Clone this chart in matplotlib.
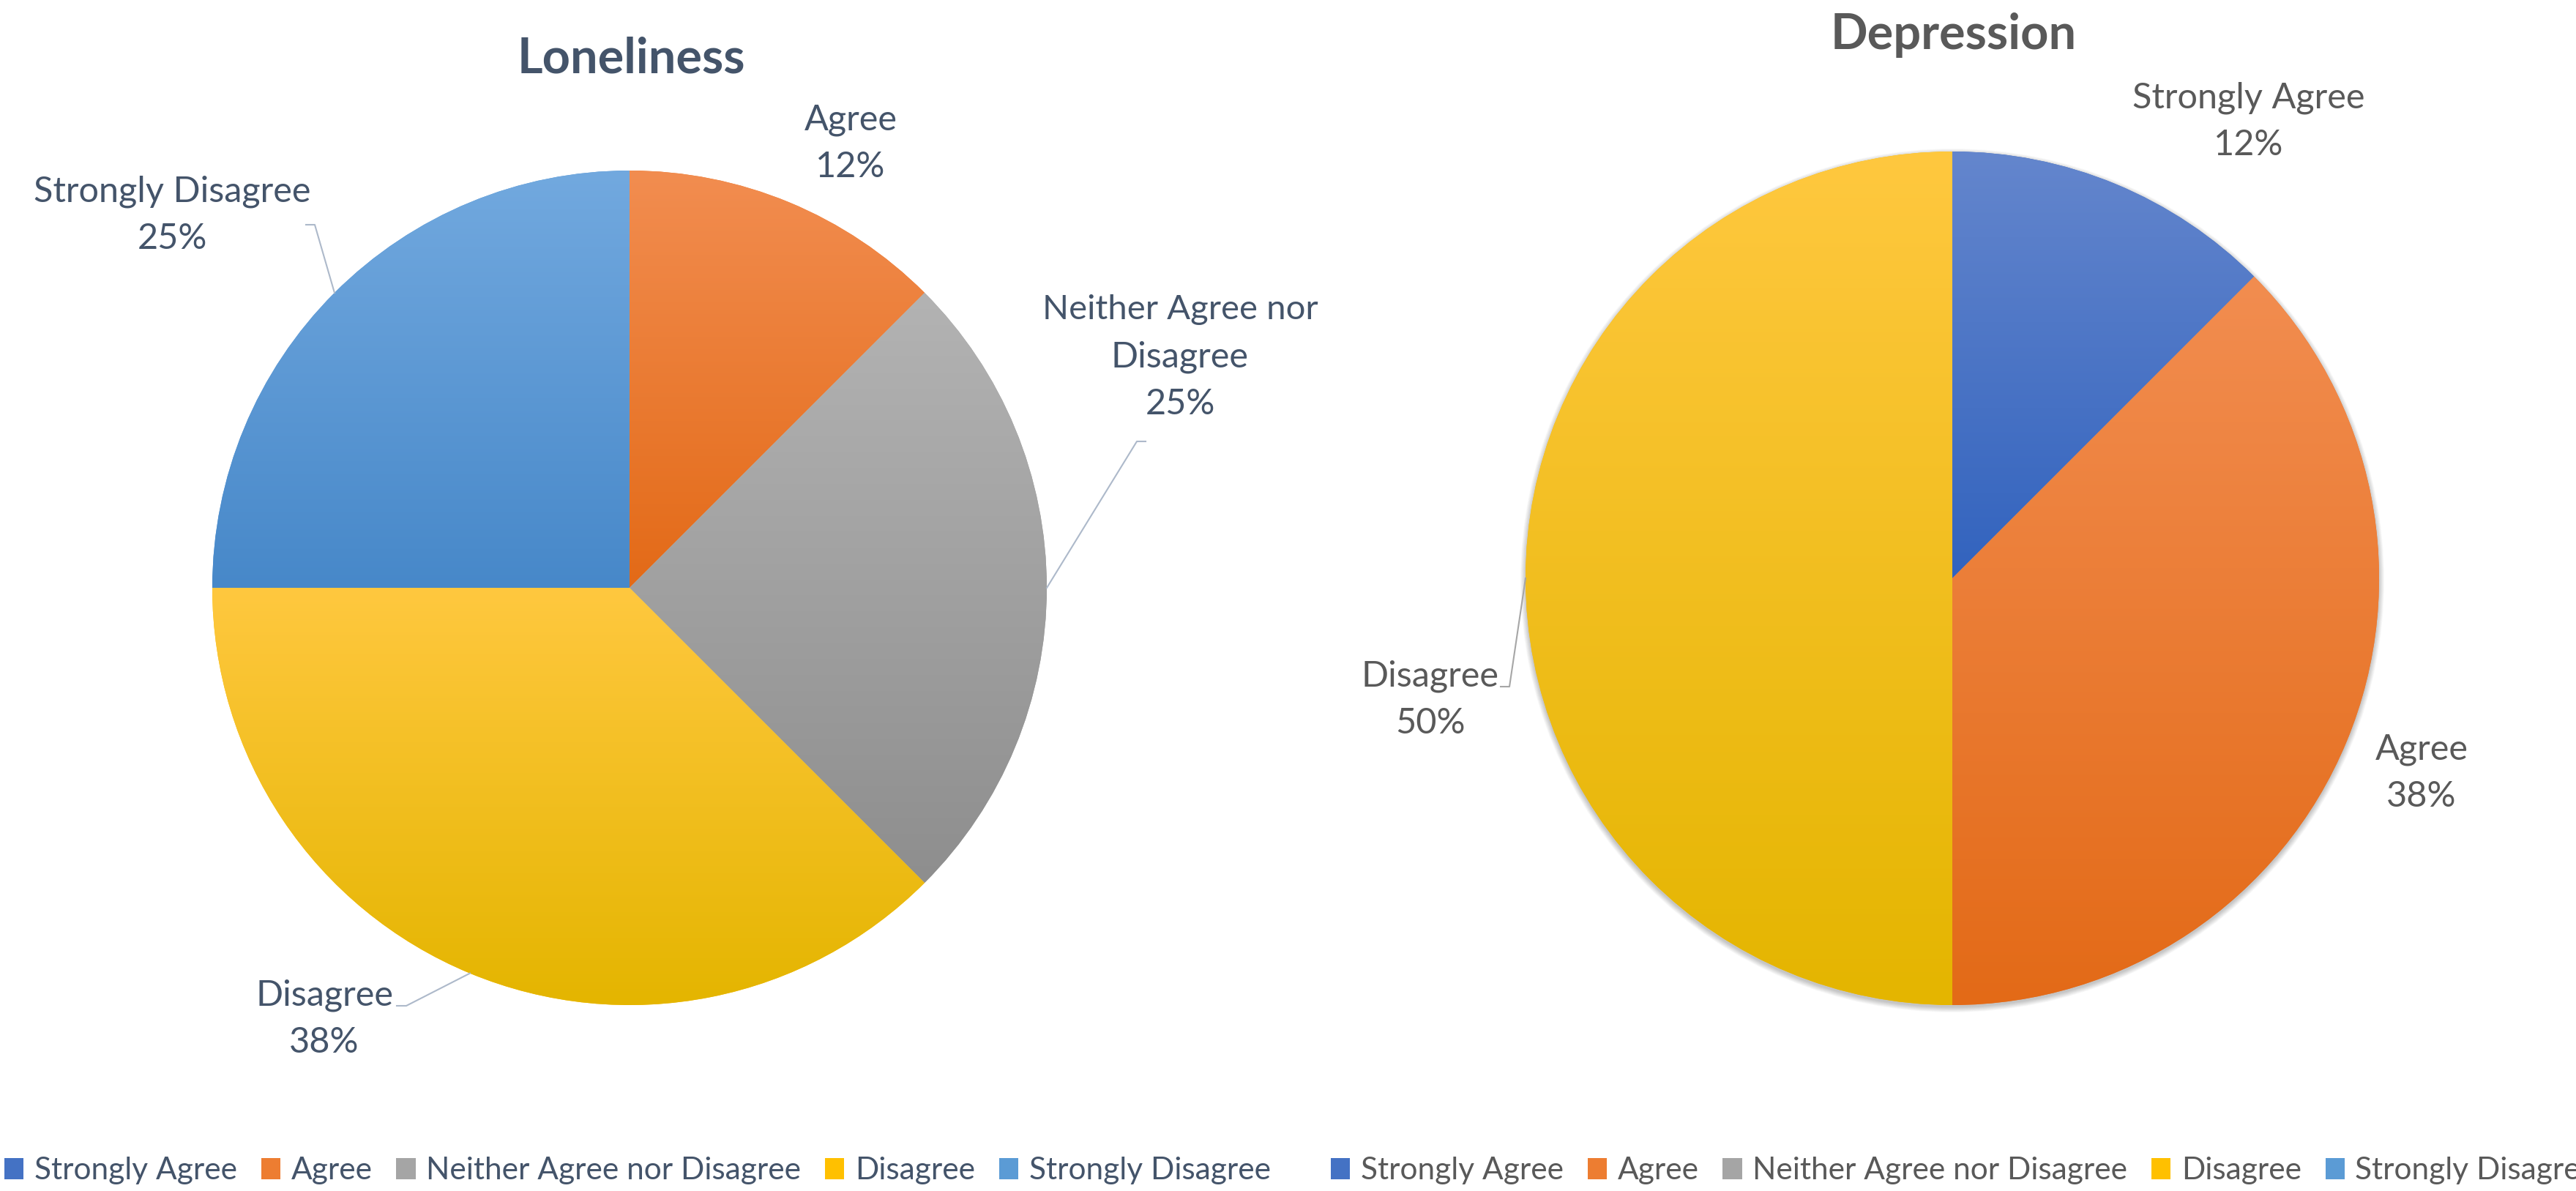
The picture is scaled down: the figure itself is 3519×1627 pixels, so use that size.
import matplotlib.pyplot as plt
import matplotlib.colors as mcolors
from matplotlib.patches import Patch, Circle
import numpy as np

plt.rcParams['font.family'] = ['Lato', 'DejaVu Sans']

# data (percent of respondents)
categories = ['Strongly Agree', 'Agree', 'Neither Agree nor Disagree', 'Disagree', 'Strongly Disagree']
loneliness = [0, 12.5, 25, 37.5, 25]
depression = [12.5, 37.5, 0, 50, 0]
loneliness_pct = ['0%', '12%', '25%', '38%', '25%']
depression_pct = ['12%', '38%', '0%', '50%', '0%']

# excel-like gradient colours (top, bottom) per category
base_cols = ['#4472C4', '#ED7D31', '#A5A5A5', '#FFC000', '#5B9BD5']
grad_cols = [('#6486CD', '#3263BE'),
             ('#F28D50', '#E36A17'),
             ('#B3B3B3', '#8E8E8E'),
             ('#FFC83F', '#E4B500'),
             ('#72A9DF', '#4788C9')]

W, H = 3519, 1627
fig = plt.figure(figsize=(W / 100, H / 100), dpi=100)
ax = fig.add_axes([0, 0, 1, 1])


def fy(y):
    # reference pixel rows are counted from the top
    return H - y


def draw_pie(values, cx, cy, r):
    wedges, _ = ax.pie(values, startangle=90, counterclock=False, center=(cx, fy(cy)),
                       radius=r, colors=base_cols, wedgeprops=dict(linewidth=0))
    for w, (top, bot) in zip(wedges, grad_cols):
        if w.theta2 - w.theta1 <= 0:
            continue
        ext = w.get_path().get_extents()
        c0 = np.array(mcolors.to_rgb(bot))
        c1 = np.array(mcolors.to_rgb(top))
        t = np.linspace(0, 1, 256)[:, None, None]
        img = c0 + (c1 - c0) * t
        im = ax.imshow(img, extent=[ext.x0, ext.x1, ext.y0, ext.y1], origin='lower',
                       aspect='auto', interpolation='bilinear', zorder=w.get_zorder())
        im.set_clip_path(w)
    return wedges


def edge_point(w, cx, cy, r):
    th = np.deg2rad((w.theta1 + w.theta2) / 2)
    return cx + r * np.cos(th), fy(cy) + r * np.sin(th)


def label(x, y1, txt1, txt2, color):
    ax.text(x, fy(y1), txt1, ha='center', va='baseline', fontsize=35, color=color)
    ax.text(x, fy(y1 + 65), txt2, ha='center', va='baseline', fontsize=35, color=color)


def leader(w, cx, cy, r, x0, x1, y, color):
    ex, ey = edge_point(w, cx, cy, r)
    ax.plot([x0, x1, ex], [fy(y), fy(y), ey], color=color, lw=1.5, zorder=5)


# ---- Loneliness ----
lc = '#44546A'
lx, ly, lr = 860, 803, 570
lw_ = draw_pie(loneliness, lx, ly, lr)
ax.text(862, fy(99), 'Loneliness', ha='center', va='baseline', fontsize=48,
        fontweight='bold', color=lc)
label(1162, 177, categories[1], loneliness_pct[1], lc)
ax.text(1612, fy(436), 'Neither Agree nor', ha='center', va='baseline', fontsize=34, color=lc)
label(1612, 501, 'Disagree', loneliness_pct[2], lc)
label(443, 1373, categories[3], loneliness_pct[3], lc)
label(235, 275, categories[4], loneliness_pct[4], lc)
leader(lw_[2], lx, ly, lr, 1565, 1553, 603, '#ADB9CA')
leader(lw_[3], lx, ly, lr, 542, 555, 1374, '#ADB9CA')
leader(lw_[4], lx, ly, lr, 418, 430, 307, '#ADB9CA')

# ---- Depression ----
dc = '#595959'
dx, dy, dr = 2667, 790, 583
for k in range(10):
    ax.add_patch(Circle((dx, fy(dy) - 3), dr + 7 - k * 0.8, color='black',
                        alpha=0.025, lw=0, zorder=0))
dw = draw_pie(depression, dx, dy, dr)
ax.text(2669, fy(67), 'Depression', ha='center', va='baseline', fontsize=48,
        fontweight='bold', color=dc)
label(3072, 147, categories[0], depression_pct[0], dc)
label(3308, 1037, categories[1], depression_pct[1], dc)
label(1954, 937, categories[3], depression_pct[3], dc)
leader(dw[3], dx, dy, dr, 2050, 2062, 938, '#A6A6A6')

ax.set_xlim(0, W)
ax.set_ylim(0, H)
ax.set_aspect('auto')
ax.axis('off')

# ---- legends ----
handles = [Patch(facecolor=c, edgecolor='none') for c in base_cols]
for x0, col in [(6, lc), (1818, dc)]:
    fig.legend(handles, categories, loc='center left',
               bbox_to_anchor=(x0 / W, (H - 1599) / H), ncol=5, frameon=False,
               fontsize=30.5, handlelength=0.62, handleheight=0.68, handletextpad=0.34,
               columnspacing=0.78, borderpad=0, borderaxespad=0, labelcolor=col)

plt.savefig('out.png', dpi=100)
